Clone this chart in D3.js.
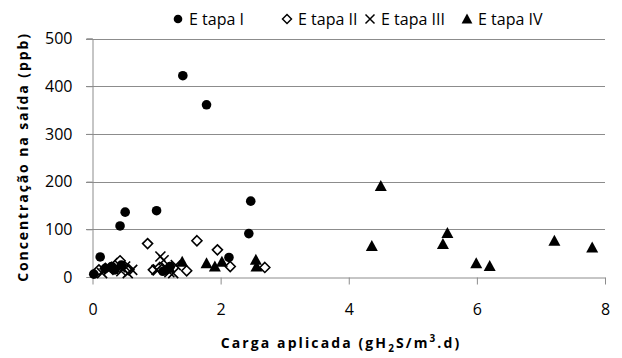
<!DOCTYPE html>
<html><head><meta charset="utf-8">
<script src="https://cdn.jsdelivr.net/npm/d3@7"></script>
<style>
body{margin:0;background:#fff;}
text{font-family:"Open Sans","Liberation Sans",sans-serif;fill:#000;}
</style></head>
<body><svg id="c" width="622" height="358"></svg>
<script>
const seriesNames = ["E tapa I","E tapa II","E tapa III","E tapa IV"];
const etapa1 = [[0.02,6],[0.12,42],[0.2,18],[0.3,22],[0.35,15],[0.43,107],[0.45,25],[0.51,136],[1.0,139],[1.1,12],[1.15,15],[1.21,22],[1.41,422],[1.78,361],[2.13,41],[2.44,91],[2.47,159]];
const etapa2 = [[0.1,15],[0.2,18],[0.3,20],[0.38,28],[0.43,34],[0.5,22],[0.57,15],[0.86,70],[0.95,15],[1.05,20],[1.47,13],[1.63,76],[1.95,57],[2.15,22],[2.69,20]];
const etapa3 = [[0.15,8],[0.25,15],[0.35,20],[0.45,12],[0.51,22],[0.55,8],[0.62,15],[1.0,15],[1.06,43],[1.11,35],[1.15,20],[1.2,10],[1.26,8],[1.3,25]];
const etapa4 = [[1.2,20],[1.40,32],[1.78,29],[1.91,22],[2.02,32],[2.55,36],[2.56,22],[4.36,65],[4.50,191],[5.47,69],[5.54,92],[5.99,29],[6.20,23],[7.21,76],[7.80,62]];
const xTicks = [0,2,4,6,8];
const yTicks = [0,100,200,300,400,500];

const svg = d3.select("#c");
const x = d3.scaleLinear().domain([0,8]).range([92.5,605]);
const y = d3.scaleLinear().domain([0,500]).range([277,38.5]);

// gridlines
svg.append("g").selectAll("line").data(yTicks.filter(d=>d>0)).join("line")
  .attr("x1",86).attr("x2",605).attr("y1",d=>Math.round(y(d))+0.5).attr("y2",d=>Math.round(y(d))+0.5)
  .attr("stroke","#8c8c8c").attr("stroke-width",1);

// y axis
const ya = svg.append("g").attr("transform","translate(92.5,0)")
  .call(d3.axisLeft(y).tickValues(yTicks).tickSize(6).tickPadding(14));
ya.select(".domain").attr("stroke","#8c8c8c");
ya.selectAll(".tick line").attr("stroke","#8c8c8c");
ya.selectAll("text").attr("font-size",16).attr("font-family","Open Sans");

// x axis
const xa = svg.append("g").attr("transform","translate(0,277.5)")
  .call(d3.axisBottom(x).tickValues(xTicks).tickSize(7).tickSizeOuter(0).tickPadding(19));
xa.select(".domain").attr("stroke","#8c8c8c");
xa.selectAll(".tick line").attr("stroke","#8c8c8c");
xa.selectAll("text").attr("font-size",16).attr("font-family","Open Sans");

// titles
const yt = svg.append("text").attr("transform","translate(28,157) rotate(-90)")
  .attr("text-anchor","middle").attr("font-size",14).attr("font-weight","bold")
  .attr("letter-spacing",1.9).text("Concentração na saída (ppb)");
const xt = svg.append("text").attr("x",341).attr("y",348).attr("text-anchor","middle")
  .attr("font-size",14).attr("font-weight","bold").attr("letter-spacing",2.1);
xt.append("tspan").text("Carga aplicada (gH");
xt.append("tspan").attr("font-size",10).attr("dy",4).text("2");
xt.append("tspan").attr("dy",-4).text("S/m");
xt.append("tspan").attr("font-size",10).attr("dy",-6).text("3");
xt.append("tspan").attr("dy",6).text(".d)");

// markers
const g = svg.append("g");
function drawCircle(sel){sel.append("circle").attr("r",4.8).attr("fill","#000");}
function drawDiamond(sel){sel.append("path").attr("d","M0,-5L5,0L0,5L-5,0Z").attr("fill","#fff").attr("stroke","#000").attr("stroke-width",1.6);}
function drawCross(sel){sel.append("path").attr("d","M-5,-5L5,5M-5,5L5,-5").attr("stroke","#000").attr("stroke-width",1.6);}
function drawTri(sel){sel.append("path").attr("d","M0,-6L6,5L-6,5Z").attr("fill","#000");}

const sets = [[etapa2,drawDiamond],[etapa3,drawCross],[etapa1,drawCircle],[etapa4,drawTri]];
sets.forEach(([data,fn])=>{
  g.append("g").selectAll("g").data(data).join("g")
   .attr("transform",d=>`translate(${x(d[0])},${y(d[1])})`).each(function(){fn(d3.select(this));});
});

// legend
const legX = [178,287,370,467];
const legFns = [drawCircle,drawDiamond,drawCross,drawTri];
const lg = svg.append("g");
seriesNames.forEach((n,i)=>{
  const s = lg.append("g").attr("transform",`translate(${legX[i]},19)`);
  const m = s.append("g").attr("transform","scale(0.9)");
  legFns[i](m);
  s.append("text").attr("x",11).attr("y",6).attr("font-size",16).text(n);
});
</script></body></html>
